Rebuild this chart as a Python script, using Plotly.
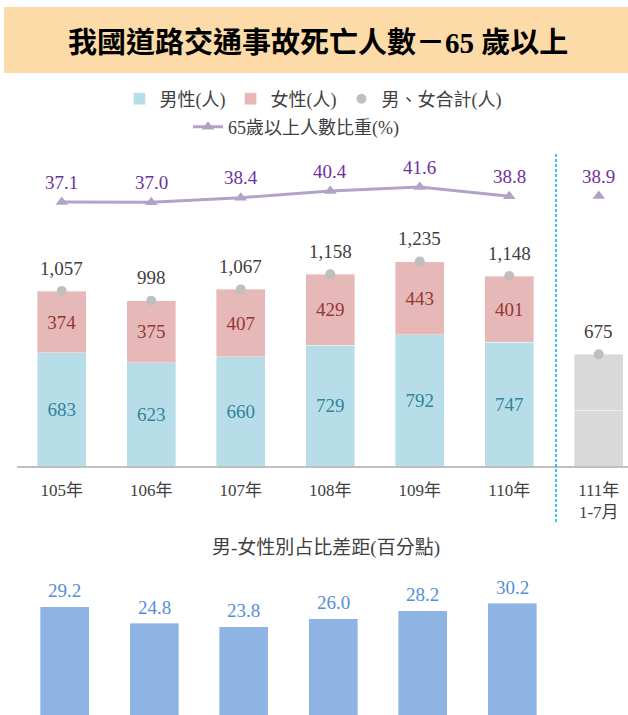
import plotly.graph_objects as go

# ---------------- data ----------------
categories = ["105年", "106年", "107年", "108年", "109年", "110年", "111年<br>1-7月"]
years = categories[:6]
male = [683, 623, 660, 729, 792, 747]
female = [374, 375, 407, 429, 443, 401]
totals = [1057, 998, 1067, 1158, 1235, 1148, 675]
partial_lower = [338]   # 111年1-7月 gray bar, lower segment (estimated)
partial_upper = [337]   # 111年1-7月 gray bar, upper segment (estimated)
share65 = [37.1, 37.0, 38.4, 40.4, 41.6, 38.8]
share65_partial = [38.9]
gap = [29.2, 24.8, 23.8, 26.0, 28.2, 30.2]

title_text = "我國道路交通事故死亡人數－65 歲以上"
subtitle_text = "男-女性別占比差距(百分點)"

# ---------------- style ----------------
FONT = "Liberation Serif, 'Noto Sans CJK TC', serif"
W, H = 628, 715
C_MALE = "#B7DEE8"
C_FEMALE = "#E6B9B8"
C_GRAY = "#D9D9D9"
C_DOT = "#BFBFBF"
C_LINE = "#B3A2C7"
C_GAP = "#8EB4E3"
T_MALE = "#31849B"
T_FEMALE = "#953735"
T_LINE = "#7030A0"
T_GAP = "#558ED5"
T_DARK = "#404040"
NUM = 19

def py(p):  # pixel y from top -> paper
    return 1 - p / H

def px(p):
    return p / W

edge = dict(color="rgba(255,255,255,0.45)", width=0.8)

fig = go.Figure()

fig.add_trace(go.Bar(
    x=years, y=male, name="男性(人)", marker=dict(color=C_MALE, line=edge),
    text=[str(v) for v in male], textposition="inside", insidetextanchor="middle",
    insidetextfont=dict(color=T_MALE, size=NUM, family=FONT),
    textangle=0, legend="legend", xaxis="x", yaxis="y"))
fig.add_trace(go.Bar(
    x=years, y=female, name="女性(人)", marker=dict(color=C_FEMALE, line=edge),
    text=[str(v) for v in female], textposition="inside", insidetextanchor="middle",
    insidetextfont=dict(color=T_FEMALE, size=NUM, family=FONT),
    textangle=0, legend="legend", xaxis="x", yaxis="y"))
fig.add_trace(go.Bar(
    x=categories[6:], y=partial_lower, showlegend=False,
    marker=dict(color=C_GRAY, line=edge), xaxis="x", yaxis="y"))
fig.add_trace(go.Bar(
    x=categories[6:], y=partial_upper, showlegend=False,
    marker=dict(color=C_GRAY, line=edge), xaxis="x", yaxis="y"))

fig.add_trace(go.Scatter(
    x=categories, y=totals, mode="markers", name="男、女合計(人)",
    marker=dict(color=C_DOT, size=10), legend="legend", xaxis="x", yaxis="y"))

fig.add_trace(go.Scatter(
    x=years, y=share65, mode="lines+markers", name="65歲以上人數比重(%)",
    line=dict(color=C_LINE, width=3),
    marker=dict(symbol="triangle-up", size=11, color=C_LINE),
    legend="legend2", xaxis="x", yaxis="y2"))
fig.add_trace(go.Scatter(
    x=categories[6:], y=share65_partial, mode="markers", showlegend=False,
    marker=dict(symbol="triangle-up", size=11, color=C_LINE),
    xaxis="x", yaxis="y2"))

fig.add_trace(go.Bar(
    x=years, y=gap, showlegend=False, marker=dict(color=C_GAP, line=edge),
    xaxis="x2", yaxis="y3"))

annotations = []
for c, v in zip(categories, totals):
    annotations.append(dict(x=c, y=v, xref="x", yref="y", text=f"{v:,}",
                            showarrow=False, yshift=23, yanchor="middle",
                            font=dict(size=NUM, color=T_DARK, family=FONT)))
for c, v in zip(categories, share65 + share65_partial):
    annotations.append(dict(x=c, y=v, xref="x", yref="y2", text=f"{v:.1f}",
                            showarrow=False, yshift=20, yanchor="middle",
                            font=dict(size=NUM, color=T_LINE, family=FONT)))
for c, v in zip(years, gap):
    annotations.append(dict(x=c, y=v, xref="x2", yref="y3", text=f"{v:.1f}",
                            showarrow=False, yshift=16, yanchor="middle",
                            font=dict(size=NUM, color=T_GAP, family=FONT)))
annotations.append(dict(x=px(318), y=py(43), xref="paper", yref="paper",
                        text=f"<b>{title_text}</b>", showarrow=False,
                        xanchor="center", yanchor="middle",
                        font=dict(size=29, color="#000000", family=FONT)))
annotations.append(dict(x=px(326), y=py(548), xref="paper", yref="paper",
                        text=subtitle_text, showarrow=False,
                        xanchor="center", yanchor="middle",
                        font=dict(size=19, color=T_DARK, family=FONT)))

shapes = [
    dict(type="rect", xref="paper", yref="paper", x0=px(4), x1=1,
         y0=py(73), y1=py(7), fillcolor="#FDDBA8", line=dict(width=0), layer="below"),
    dict(type="line", xref="paper", yref="paper", x0=px(556), x1=px(556),
         y0=py(522), y1=py(153), line=dict(color="#00B0F0", width=1.5, dash="3px,2px")),
]

unit = 89.5
fig.update_layout(
    width=W, height=H, margin=dict(l=0, r=0, t=0, b=0),
    paper_bgcolor="white", plot_bgcolor="white",
    barmode="stack", bargap=0.45,
    font=dict(family=FONT, color=T_DARK),
    xaxis=dict(domain=[px(17), 1], type="category", categoryorder="array",
               categoryarray=categories, range=[-0.5, (W - 17) / unit - 0.5],
               showline=True, linecolor="#BFBFBF", linewidth=1.5,
               showgrid=False, ticks="", ticklabelstandoff=8,
               tickfont=dict(size=17, color=T_DARK, family=FONT), anchor="y"),
    yaxis=dict(domain=[py(466), py(150)], range=[0, 316 / 0.1655],
               visible=False, showgrid=False),
    yaxis2=dict(domain=[py(466), py(150)], overlaying="y",
                range=[37.1 - 264 / 3.333, 37.1 + 52 / 3.333],
                visible=False, showgrid=False),
    xaxis2=dict(domain=[px(20), 1], type="category", categoryorder="array",
                categoryarray=categories, range=[-0.5, (W - 20) / unit - 0.5],
                visible=False, anchor="y3"),
    yaxis3=dict(domain=[0, py(575)], range=[0, 140 / 3.705], visible=False,
                anchor="x2"),
    legend=dict(orientation="h", x=px(313), y=py(99), xanchor="center",
                yanchor="middle", font=dict(size=18, color=T_DARK, family=FONT),
                bgcolor="rgba(0,0,0,0)", traceorder="normal"),
    legend2=dict(orientation="h", x=px(296), y=py(127), xanchor="center",
                 yanchor="middle", font=dict(size=18, color=T_DARK, family=FONT),
                 bgcolor="rgba(0,0,0,0)"),
    annotations=annotations, shapes=shapes,
    showlegend=True,
)

fig.write_html("out.html", config={"displayModeBar": False},
               post_script="document.body.style.margin='0';document.body.style.overflow='hidden';")
